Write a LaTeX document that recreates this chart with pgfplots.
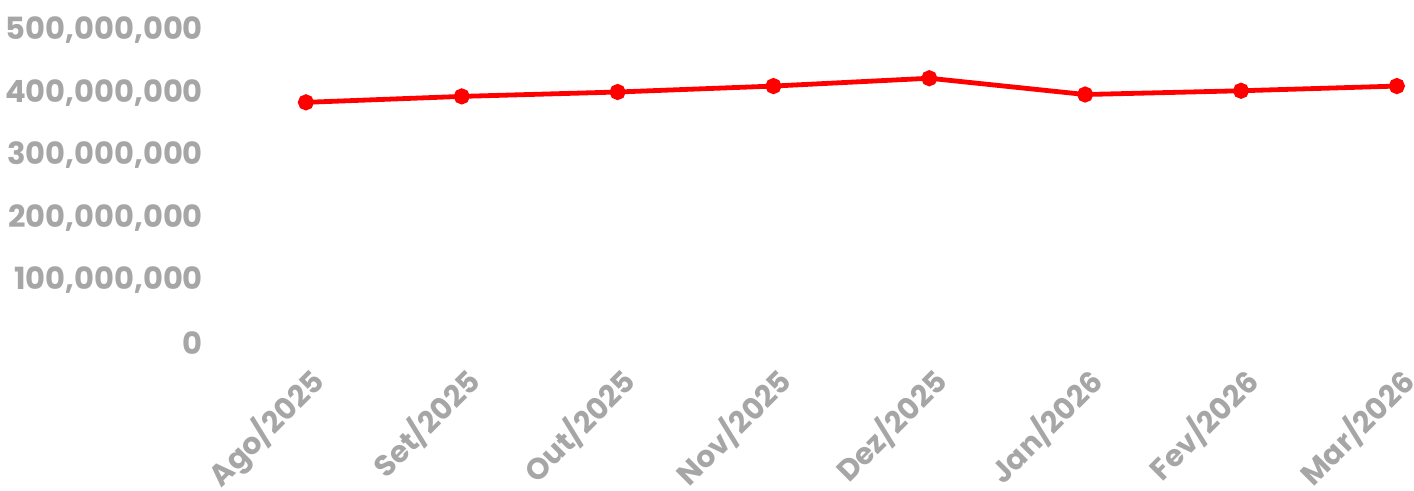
\documentclass[border=0pt]{standalone}
\usepackage{pgfplots}
\pgfplotsset{compat=1.18}
\usepackage{fontspec}
\setmainfont{Poppins}
\definecolor{lbl}{HTML}{A6A6A6}
\definecolor{ln}{HTML}{FF0000}
\begin{document}
\begin{tikzpicture}
\begin{axis}[
  scale only axis,
  width=593pt,
  height=171.5pt,
  xmin=-0.5, xmax=7.11,
  ymin=0, ymax=5.48e8,
  axis x line=bottom, axis y line=left,
  axis line style={draw=none},
  xtick={0,...,7},
  xticklabels={Ago/2025,Set/2025,Out/2025,Nov/2025,Dez/2025,Jan/2026,Fev/2026,Mar/2026},
  ytick={0,1e8,2e8,3e8,4e8,5e8},
  scaled y ticks=false,
  major tick length=0pt,
  tick style={draw=none},
  /pgf/number format/assume math mode=true,
  yticklabel style={/pgf/number format/fixed,/pgf/number format/1000 sep={,},
    anchor=east, xshift=-9pt, font=\fontsize{15.3}{18}\selectfont\bfseries},
  xticklabel style={xshift=0pt, yshift=-5.5pt, rotate=45, anchor=north east,
    font=\fontsize{14.9}{17}\selectfont\bfseries},
  tick label style={text=lbl},
  clip=false,
]
\coordinate (ll) at (rel axis cs:0,0);
\coordinate (ur) at (rel axis cs:1,1);
\addplot[ln, line width=2.4pt, mark=*, mark size=2.8pt, mark options={fill=ln, draw=ln}]
  coordinates {(0,384.5e6) (1,394e6) (2,401e6) (3,410.5e6) (4,423e6) (5,397e6) (6,403e6) (7,410.5e6)};
\end{axis}
\pgfresetboundingbox
\path ([xshift=-114pt,yshift=-73.5pt]ll) rectangle (ur);
\end{tikzpicture}
\end{document}
